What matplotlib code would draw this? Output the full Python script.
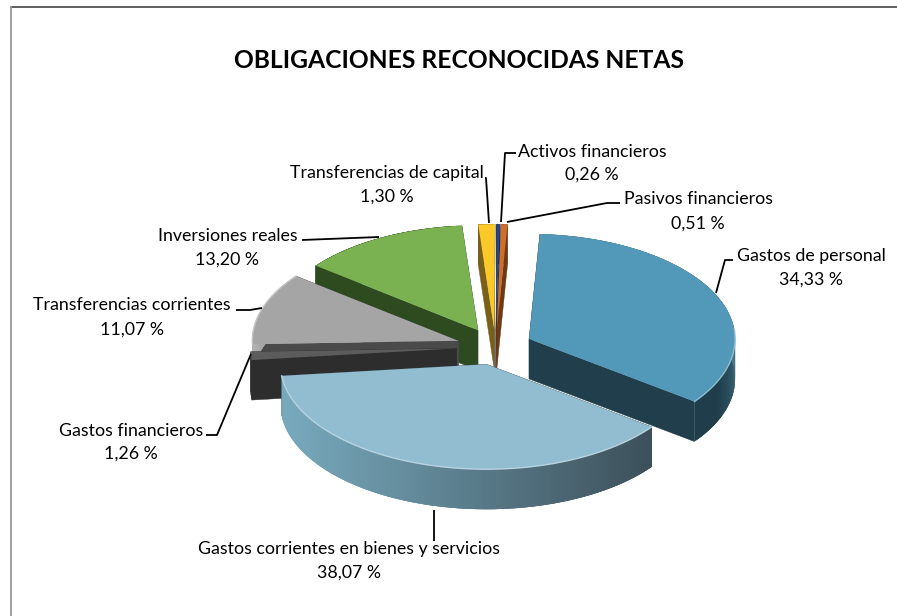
import numpy as np
import matplotlib
matplotlib.use('Agg')
import matplotlib.pyplot as plt
from matplotlib.lines import Line2D
from matplotlib.patches import Polygon
from matplotlib.colors import to_rgb

plt.rcParams['font.family'] = ['Lato', 'DejaVu Sans']

# datos del grafico
categorias = ['Gastos de personal', 'Gastos corrientes en bienes y servicios',
              'Gastos financieros', 'Transferencias corrientes', 'Inversiones reales',
              'Transferencias de capital', 'Activos financieros', 'Pasivos financieros']
valores = [34.33, 38.07, 1.26, 11.07, 13.20, 1.30, 0.26, 0.51]

titulo = 'OBLIGACIONES RECONOCIDAS NETAS'

# color de cara superior, lados, y borde (inicio/fin del degradado)
c_top = ['#5298B9', '#92BCD0', '#5C5C5C', '#A5A5A5', '#7AB252', '#FAC828', '#23468A', '#CD6E2D']
c_cut = ['#203E4B', '#3C505A', '#2D2D2D', '#4A4A4A', '#2D4B1E', '#78601A', '#12244A', '#6E3A16']
c_rim1 = ['#4F7F93', '#78AABE', '#303030', '#B5B5B5', '#2D4B1E', '#78601A', '#12244A', '#6E3A16']
c_rim2 = ['#1F3D4A', '#3C505A', '#2D2D2D', '#7A7A7A', '#2D4B1E', '#78601A', '#12244A', '#6E3A16']

# orden de dibujo, de atras hacia adelante
orden = [4, 3, 2, 5, 6, 7, 0, 1]
separacion = [0.18, 0.17, 0.19, 0.19, 0.18, 0.17, 0.17, 0.17]

W, H = 897, 616
CX, CY = 495.5, 347    # centro de la torta en pixeles
RX, RY = 206, 105      # radios de la elipse
PROF = 40 / RY         # profundidad 3D

fig = plt.figure(figsize=(W / 100, H / 100), dpi=100, facecolor='white')
ax = fig.add_axes([0, 0, 1, 1])

wedges, _ = ax.pie(valores, startangle=87, counterclock=False, explode=separacion,
                   colors=c_top, wedgeprops={'linewidth': 0})
ax.set_aspect('auto')
ax.set_xlim(-CX / RX, (W - CX) / RX)
ax.set_ylim((CY - H) / RY, CY / RY)
ax.axis('off')


def px(x, y):
    return (x - CX) / RX, (CY - y) / RY


# caras laterales y borde exterior de cada porcion
for z, i in enumerate(orden):
    w = wedges[i]
    cx, cy = w.center
    t1, t2 = np.radians(w.theta1), np.radians(w.theta2)
    base = z * 10 + 1
    for t in (t1, t2):
        p = (cx + np.cos(t), cy + np.sin(t))
        ax.add_patch(Polygon([(cx, cy), p, (p[0], p[1] - PROF), (cx, cy - PROF)],
                             closed=True, fc=c_cut[i], ec=c_cut[i], lw=0.3, zorder=base))
    n = max(int((t2 - t1) * 90), 2)
    ang = np.linspace(t1, t2, n + 1)
    a, b = np.array(to_rgb(c_rim1[i])), np.array(to_rgb(c_rim2[i]))
    xs = cx + np.cos(ang)
    ys = cy + np.sin(ang)
    x0, x1 = xs.min(), xs.max()
    for k in range(n):
        f = np.clip((xs[k] - x0) / (x1 - x0 + 1e-9), 0, 1)
        if i == 0:
            # personal: se oscurece hacia el frente
            f = np.clip((np.sin(ang[k]) * -1 + 0.2) * 1.6, 0, 1)
        col = a + (b - a) * f
        # cada tira pisa a la siguiente para que no se vean costuras
        m = min(k + 3, n)
        q = list(zip(xs[k:m + 1], ys[k:m + 1])) + list(zip(xs[k:m + 1][::-1], ys[k:m + 1][::-1] - PROF))
        ax.add_patch(Polygon(q, closed=True, fc=col, ec='none', zorder=base + 1))
    w.set_zorder(base + 2)
    # brillo en el borde de la cara superior
    if i in (0, 1, 3):
        sel = ang[np.sin(ang) < 0.1] if i != 3 else ang
        bri = np.array(to_rgb(c_top[i])) * 0.65 + 0.35
        ax.plot(cx + np.cos(sel), cy + np.sin(sel), color=bri, lw=1.0, zorder=base + 3)

# lineas guia
guias = [
    [(716, 293), (725, 260), (733, 260)],
    [(434, 510), (434, 541)],
    [(206, 435), (217, 435), (251, 354)],
    [(236, 310), (250, 310), (262, 308)],
    [(302, 240), (379, 237)],
    [(485, 178), (486, 178), (489, 223)],
    [(516, 153), (505, 153), (501, 222)],
    [(507, 222), (607, 203), (620, 203)],
]
for g in guias:
    pts = np.array([px(*p) for p in g])
    ax.plot(pts[:, 0], pts[:, 1], color='black', lw=1.3, zorder=200, solid_capstyle='butt')

# etiquetas
pos_nombre = [(811, 256), (349, 549), (131, 431), (132, 305), (228, 236), (387, 173), (592, 152), (698, 199)]
pos_valor = [(811, 280), (349, 573), (131, 454), (132, 330), (227, 260), (387, 197), (592, 175), (698, 224)]
for nombre, v, p1, p2 in zip(categorias, valores, pos_nombre, pos_valor):
    x1, y1 = px(*p1)
    x2, y2 = px(*p2)
    ax.text(x1, y1, nombre, ha='center', va='center', fontsize=12.8, color='black', zorder=210)
    ax.text(x2, y2, f'{v:.2f} %'.replace('.', ','), ha='center', va='center', fontsize=12.8,
            color='black', zorder=210)

tx, ty = px(459, 61)
ax.text(tx, ty, titulo, ha='center', va='center', fontsize=17.7, fontweight='bold', color='black', zorder=210)

# marco del grafico: solo se ve arriba y a la izquierda
fig.add_artist(Line2D([11 / W, 1], [1 - 6.5 / H, 1 - 6.5 / H], transform=fig.transFigure, color='#505050', lw=1.3))
fig.add_artist(Line2D([11 / W, 11 / W], [0, 1 - 6.5 / H], transform=fig.transFigure, color='#999999', lw=1.3))

fig.savefig('out.png', dpi=100, facecolor='white')
